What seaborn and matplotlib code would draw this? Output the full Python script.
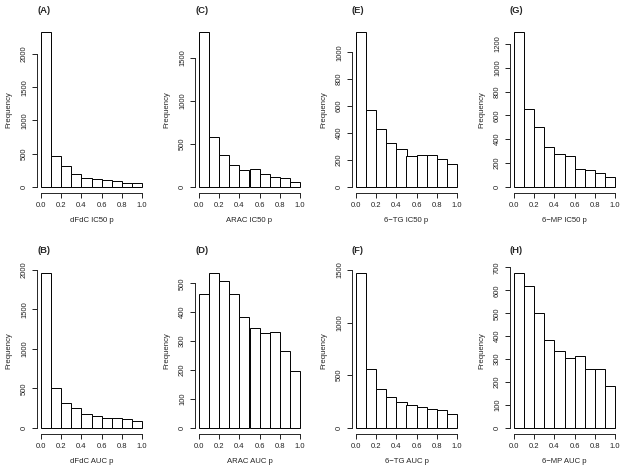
"""
Histograms of p-values for IC50 and AUC across four drugs (R base-graphics look)
"""
import numpy as np
import pandas as pd
import seaborn as sns
import matplotlib
matplotlib.use("Agg")
import matplotlib.pyplot as plt

# bin edges shared by all panels
edges = [0.0, 0.1, 0.2, 0.3, 0.4, 0.5, 0.6, 0.7, 0.8, 0.9, 1.0]

# counts per bin
dfdc_ic50 = [2330, 470, 310, 195, 135, 120, 100, 90, 55, 50]
dfdc_auc = [1958, 510, 315, 250, 180, 150, 125, 125, 115, 90]
arac_ic50 = [1795, 580, 372, 255, 198, 212, 151, 116, 102, 55]
arac_auc = [462, 535, 507, 463, 382, 345, 327, 333, 265, 197]
tg_ic50 = [1150, 571, 429, 323, 278, 228, 236, 240, 205, 170]
tg_auc = [1470, 555, 370, 295, 245, 220, 195, 180, 165, 130]
mp_ic50 = [1298, 655, 500, 335, 275, 260, 150, 140, 120, 80]
mp_auc = [675, 617, 500, 383, 335, 303, 312, 255, 257, 182]

# (letter, x label, counts, y tick step) for each panel, row by row
top_row = [("(A)", "dFdC IC50 p", dfdc_ic50, 500),
           ("(C)", "ARAC IC50 p", arac_ic50, 500),
           ("(E)", "6\u2212TG IC50 p", tg_ic50, 200),
           ("(G)", "6\u2212MP IC50 p", mp_ic50, 200)]
bottom_row = [("(B)", "dFdC AUC p", dfdc_auc, 500),
              ("(D)", "ARAC AUC p", arac_auc, 100),
              ("(F)", "6\u2212TG AUC p", tg_auc, 500),
              ("(H)", "6\u2212MP AUC p", mp_auc, 100)]

sns.set_style("ticks")
plt.rcParams['font.family'] = ['Liberation Sans', 'DejaVu Sans']

W, H = 626, 472
fig = plt.figure(figsize=(W / 100, H / 100), dpi=100)

col_left = [37, 195, 352, 510]
row_top = [26, 267]
ax_w, ax_h = 109, 167

centers = [(a + b) / 2 for a, b in zip(edges[:-1], edges[1:])]

for r, row in enumerate([top_row, bottom_row]):
    for c, (letter, xlabel, counts, step) in enumerate(row):
        left = col_left[c] / W
        bottom = 1 - (row_top[r] + ax_h) / H
        ax = fig.add_axes([left, bottom, ax_w / W, ax_h / H])

        df = pd.DataFrame({"p": centers, "n": counts})
        sns.histplot(data=df, x="p", weights="n", bins=edges, ax=ax,
                     color="white", edgecolor="black", linewidth=0.7,
                     alpha=1)

        top = max(counts)
        ax.set_xlim(-0.04, 1.04)
        ax.set_ylim(-0.04 * top, 1.04 * top)
        ax.set_xticks(np.arange(0, 1.01, 0.2))
        ax.set_xticklabels([f"{v:.1f}" for v in np.arange(0, 1.01, 0.2)])
        yt = np.arange(0, 1.04 * top, step)
        ax.set_yticks(yt)
        ax.set_yticklabels([str(int(v)) for v in yt])

        sns.despine(ax=ax)
        ax.spines['bottom'].set_bounds(0, 1)
        ax.spines['left'].set_bounds(0, yt[-1])
        for s in ['left', 'bottom']:
            ax.spines[s].set_linewidth(0.7)

        ax.tick_params(length=3.5, width=0.7, labelsize=5.5, pad=3,
                       colors="#222222")
        for lab in ax.get_yticklabels():
            lab.set_rotation(90)
            lab.set_va("center")

        ax.set_xlabel(xlabel, fontsize=5.6, labelpad=6)
        ax.set_ylabel("Frequency", fontsize=5.6, labelpad=6)
        ax.text(0, 1.0 + 16 / ax_h, letter, transform=ax.transAxes,
                ha="left", va="center", fontsize=6.8, fontweight="bold")

fig.savefig("out.png", dpi=100)
plt.close()
